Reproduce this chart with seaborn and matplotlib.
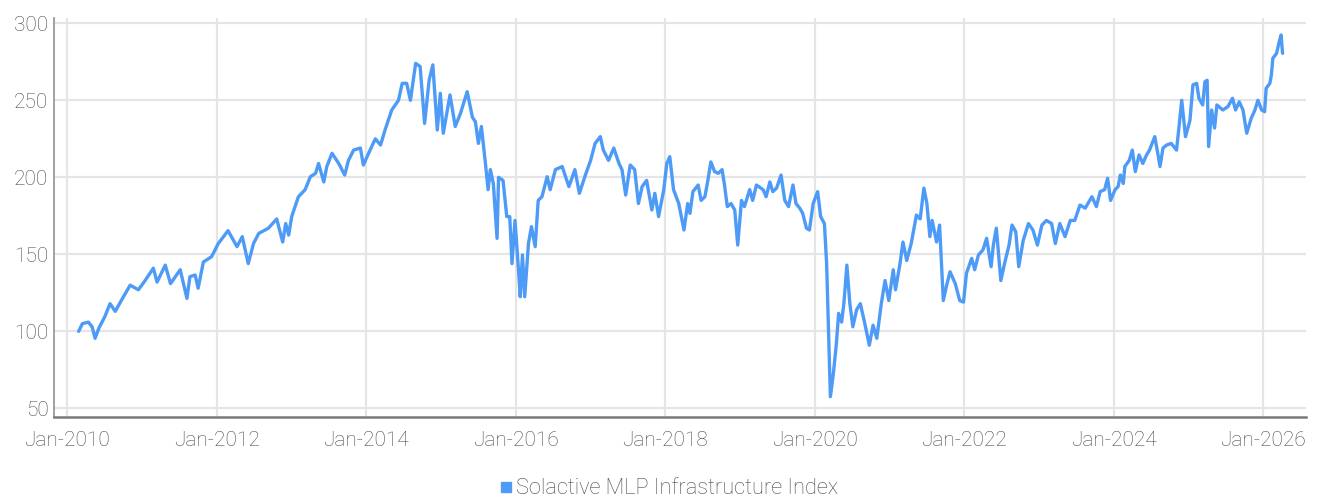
import numpy as np
import pandas as pd
import matplotlib
matplotlib.use("Agg")
import matplotlib.pyplot as plt
import matplotlib.dates as mdates
from matplotlib.lines import Line2D
import seaborn as sns

# ======= Data =======================================

SERIES_NAME = "Solactive MLP Infrastructure Index"

# time in decimal years
YEARS = [
    2010.15, 2010.20, 2010.28, 2010.33, 2010.37, 2010.42, 2010.50, 2010.57, 2010.64, 2010.75,
    2010.84, 2010.95, 2011.04, 2011.15, 2011.20, 2011.31, 2011.38, 2011.51, 2011.60, 2011.64,
    2011.71, 2011.75, 2011.82, 2011.93, 2012.02, 2012.15, 2012.27, 2012.34, 2012.42, 2012.49,
    2012.56, 2012.69, 2012.80, 2012.88, 2012.92, 2012.96, 2013.00, 2013.09, 2013.18, 2013.25,
    2013.32, 2013.36, 2013.43, 2013.47, 2013.54, 2013.63, 2013.71, 2013.76, 2013.83, 2013.92,
    2013.96, 2014.03, 2014.12, 2014.19, 2014.25, 2014.34, 2014.43, 2014.48, 2014.54, 2014.59,
    2014.66, 2014.72, 2014.78, 2014.84, 2014.89, 2014.95, 2014.99, 2015.03, 2015.12, 2015.19,
    2015.26, 2015.35, 2015.42, 2015.46, 2015.50, 2015.54, 2015.59, 2015.63, 2015.66, 2015.70,
    2015.75, 2015.77, 2015.83, 2015.88, 2015.92, 2015.95, 2015.99, 2016.04, 2016.06, 2016.09,
    2016.12, 2016.17, 2016.21, 2016.26, 2016.30, 2016.35, 2016.42, 2016.46, 2016.53, 2016.62,
    2016.71, 2016.79, 2016.85, 2016.93, 2017.00, 2017.06, 2017.13, 2017.17, 2017.24, 2017.31,
    2017.38, 2017.42, 2017.47, 2017.53, 2017.59, 2017.64, 2017.69, 2017.75, 2017.82, 2017.86,
    2017.91, 2017.98, 2018.02, 2018.06, 2018.11, 2018.18, 2018.25, 2018.30, 2018.33, 2018.37,
    2018.44, 2018.48, 2018.53, 2018.57, 2018.61, 2018.66, 2018.71, 2018.76, 2018.79, 2018.83,
    2018.88, 2018.93, 2018.97, 2019.02, 2019.06, 2019.13, 2019.17, 2019.22, 2019.31, 2019.35,
    2019.40, 2019.44, 2019.49, 2019.55, 2019.60, 2019.65, 2019.71, 2019.75, 2019.80, 2019.84,
    2019.89, 2019.93, 2019.98, 2020.04, 2020.08, 2020.13, 2020.16, 2020.19, 2020.21, 2020.25,
    2020.29, 2020.32, 2020.36, 2020.39, 2020.43, 2020.47, 2020.51, 2020.56, 2020.61, 2020.67,
    2020.73, 2020.78, 2020.83, 2020.89, 2020.94, 2020.99, 2021.05, 2021.08, 2021.14, 2021.18,
    2021.23, 2021.29, 2021.36, 2021.41, 2021.46, 2021.50, 2021.54, 2021.57, 2021.63, 2021.67,
    2021.72, 2021.76, 2021.81, 2021.88, 2021.94, 2021.99, 2022.03, 2022.10, 2022.14, 2022.19,
    2022.25, 2022.30, 2022.36, 2022.39, 2022.43, 2022.49, 2022.54, 2022.60, 2022.64, 2022.69,
    2022.73, 2022.79, 2022.86, 2022.92, 2022.98, 2023.04, 2023.10, 2023.17, 2023.22, 2023.28,
    2023.35, 2023.42, 2023.48, 2023.55, 2023.62, 2023.71, 2023.77, 2023.82, 2023.88, 2023.92,
    2023.96, 2024.02, 2024.06, 2024.09, 2024.13, 2024.15, 2024.21, 2024.25, 2024.29, 2024.34,
    2024.39, 2024.44, 2024.48, 2024.55, 2024.59, 2024.62, 2024.66, 2024.71, 2024.77, 2024.84,
    2024.86, 2024.91, 2024.96, 2025.02, 2025.06, 2025.11, 2025.14, 2025.19, 2025.22, 2025.25,
    2025.27, 2025.31, 2025.35, 2025.38, 2025.46, 2025.53, 2025.59, 2025.63, 2025.68, 2025.73,
    2025.78, 2025.84, 2025.89, 2025.93, 2025.98, 2026.02, 2026.04, 2026.09, 2026.11, 2026.13,
    2026.18, 2026.21, 2026.24, 2026.26,
]

INDEX_LEVEL = [
    100, 105, 106, 103, 95.5, 102, 109.5, 118, 113, 122.5,
    130, 127, 133, 141, 132, 143, 131, 140, 121.4, 135.5,
    136.6, 128, 145, 148.5, 157, 165.4, 155, 161.5, 144, 157,
    163.6, 167, 173, 158, 170, 162.5, 174.5, 187.4, 192, 200.4,
    202.6, 209, 197, 207, 215.6, 209, 201.5, 211, 217.7, 219,
    208, 215.6, 225, 221, 230.7, 243.7, 250, 261, 261, 250,
    274, 271.9, 235, 263, 273, 230.7, 254.5, 228.6, 253.5, 233,
    241.5, 255.6, 239, 236, 222, 233, 211, 192, 205, 196,
    160.4, 200, 198, 174.5, 174.5, 144, 172, 137.7, 122.5, 149.6,
    122.5, 157, 168, 155, 185, 187.4, 200.4, 192, 205, 207,
    194, 205, 189.6, 201.5, 211, 222, 226.4, 217.7, 211, 219,
    209, 205, 188.5, 208, 205, 183, 194, 198, 178.8, 189.6,
    174.5, 192, 209, 213.4, 192, 183, 165.8, 183, 176.6, 190.7,
    195, 185, 187.4, 198, 210, 203.7, 202.6, 205, 196, 181,
    183, 178.8, 156, 185, 181, 192, 185, 195, 192, 187.4,
    197, 190.7, 193, 201.5, 185, 181, 195, 183, 180, 176.6,
    167, 165.8, 183, 190.7, 174.5, 170, 144, 92, 57.6, 72.7,
    92, 111.7, 106, 118, 143, 118, 103, 114, 118, 105,
    91, 104, 95.5, 118, 133, 120, 140, 127, 144, 158,
    146, 157, 175.5, 173, 193, 183, 161.5, 172, 158, 169,
    120, 129, 138.7, 131, 120, 119, 137.7, 147.4, 140, 149.6,
    152.8, 160.4, 142, 156, 167, 133, 144, 156, 169, 164.7,
    142, 159, 170, 165.8, 156, 169, 172, 170, 157, 170,
    161.5, 172, 172, 182, 180, 187.4, 181, 190.7, 192, 199.4,
    185, 192, 194, 201.5, 196, 207, 211, 217.7, 203.7, 214.5,
    209, 214.5, 217.7, 226.4, 215.6, 207, 219, 221, 222, 217.7,
    226.4, 250, 226.4, 237, 260, 261, 251.3, 247, 262, 263,
    220, 243.7, 232, 247, 243.7, 246, 251.3, 243.7, 249, 243.7,
    228.6, 238.3, 243.7, 250, 243.7, 242.6, 257.8, 261, 266.5, 277.3,
    280.5, 287, 292.4, 280.5,
]

Y_TICKS = [50, 100, 150, 200, 250, 300]
X_TICK_YEARS = [2010, 2012, 2014, 2016, 2018, 2020, 2022, 2024, 2026]

LINE_COLOR = "#4d9bf7"
TEXT_COLOR = "#4a4a4a"
GRID_COLOR = "#e5e5e5"


def to_date(y):
    """decimal year -> Timestamp"""
    year = int(y)
    start = pd.Timestamp(year, 1, 1)
    end = pd.Timestamp(year + 1, 1, 1)
    return start + (end - start) * (y - year)


df = pd.DataFrame({
    "date": [to_date(y) for y in YEARS],
    "level": INDEX_LEVEL,
})

# ======= Plot ========
sns.set_theme(style="white")
plt.rcParams["font.family"] = ["Roboto", "DejaVu Sans"]
plt.rcParams["font.weight"] = "light"

fig = plt.figure(figsize=(13.17, 5.01), dpi=100)
ax = fig.add_axes([0.041, 0.167, 0.951, 0.797])

sns.lineplot(data=df, x="date", y="level", ax=ax, color=LINE_COLOR,
             linewidth=2.4, legend=False)

ax.set_xlim(to_date(2009.82), to_date(2026.58))
ax.set_ylim(44.2, 303.4)

ax.set_yticks(Y_TICKS)
ax.set_xticks([pd.Timestamp(y, 1, 1) for y in X_TICK_YEARS])
ax.xaxis.set_major_formatter(mdates.DateFormatter("%b-%Y"))

ax.grid(True, axis="both", color=GRID_COLOR, linewidth=1.6)
ax.set_axisbelow(True)

ax.set_xlabel("")
ax.set_ylabel("")
ax.tick_params(axis="both", length=0, labelsize=15, colors=TEXT_COLOR)
ax.tick_params(axis="y", pad=4)
ax.tick_params(axis="x", pad=10)

for side in ["top", "right"]:
    ax.spines[side].set_visible(False)
ax.spines["left"].set_color("#9a9a9a")
ax.spines["left"].set_linewidth(1.3)
ax.spines["bottom"].set_color("#7a7a7a")
ax.spines["bottom"].set_linewidth(1.8)

handle = Line2D([], [], color=LINE_COLOR, marker="s", linestyle="none", markersize=7.5)
fig.legend([handle], [SERIES_NAME], loc="center", bbox_to_anchor=(0.507, 0.024),
           frameon=False, fontsize=15.7, labelcolor=TEXT_COLOR,
           handletextpad=0.05, handlelength=0.8)

fig.savefig("out.png", dpi=100)
